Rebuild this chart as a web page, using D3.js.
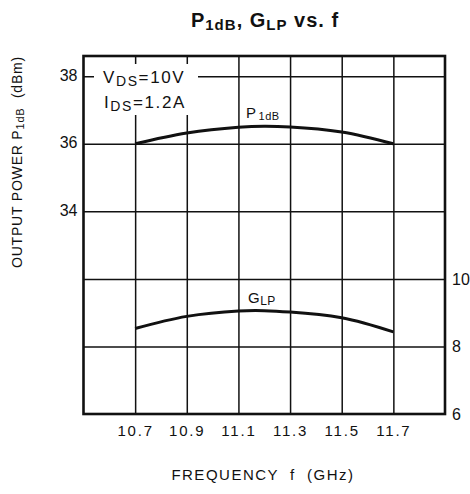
<!DOCTYPE html>
<html>
<head>
<meta charset="utf-8">
<script src="https://cdn.jsdelivr.net/npm/d3@7"></script>
<style>
  html, body { margin: 0; padding: 0; background: #fff; }
  svg { display: block; }
  text { font-family: "Liberation Sans", Arial, Helvetica, sans-serif; fill: #111; white-space: pre; }
</style>
</head>
<body>
<svg id="chart" width="470" height="494"></svg>
<script>
// ---- data ----
const freqTicks = [10.7, 10.9, 11.1, 11.3, 11.5, 11.7];
const freq = [10.7, 10.9, 11.1, 11.2, 11.3, 11.5, 11.7];
const p1dB = [36.0, 36.32, 36.49, 36.52, 36.5, 36.35, 36.0];
const glp  = [8.53, 8.89, 9.05, 9.06, 9.02, 8.85, 8.43];
const leftGrid = [38, 36, 34, 32, 30];
const leftLabels = [38, 36, 34];
const rightTicks = [10, 8, 6];
const xDomain = [10.5, 11.9];
const yLeftDomain = [28, 38.6];
const rightOffset = 22; // right axis value = left value - 22

const svg = d3.select("#chart");
const m = { left: 83.5, right: 445, top: 56, bottom: 414 };
const W = m.right - m.left, H = m.bottom - m.top;

const x = d3.scaleLinear().domain(xDomain).range([m.left, m.right]);
const yL = d3.scaleLinear().domain(yLeftDomain).range([m.bottom, m.top]);
const yR = d3.scaleLinear().domain(yLeftDomain.map(v => v - rightOffset)).range([m.bottom, m.top]);

// vertical grid + bottom labels
const gx = svg.append("g").attr("transform", `translate(0,${m.bottom})`)
  .call(d3.axisBottom(x).tickValues(freqTicks).tickSize(-H).tickPadding(11)
        .tickFormat(d3.format(".1f")));
gx.select(".domain").remove();
gx.selectAll(".tick line").attr("stroke", "#111").attr("stroke-width", 1.5);
gx.selectAll(".tick text").attr("font-size", 15).attr("letter-spacing", 1.8)
  .style("font-family", "'Liberation Sans', Arial, sans-serif").attr("fill", "#111");

// horizontal grid + left labels
const gy = svg.append("g").attr("transform", `translate(${m.left},0)`)
  .call(d3.axisLeft(yL).tickValues(leftGrid).tickSize(-W).tickPadding(6)
        .tickFormat(d => leftLabels.includes(d) ? d : ""));
gy.select(".domain").remove();
gy.selectAll(".tick line").attr("stroke", "#111").attr("stroke-width", 1.5);
gy.selectAll(".tick text").attr("font-size", 16).attr("dy", "0.25em")
  .style("font-family", "'Liberation Sans', Arial, sans-serif").attr("fill", "#111");

// right labels
const gr = svg.append("g").attr("transform", `translate(${m.right},0)`)
  .call(d3.axisRight(yR).tickValues(rightTicks).tickSize(0).tickPadding(7));
gr.select(".domain").remove();
gr.selectAll(".tick text").attr("font-size", 16)
  .style("font-family", "'Liberation Sans', Arial, sans-serif").attr("fill", "#111");

// legend background (hides grid)
svg.append("rect").attr("x", 94).attr("y", 64).attr("width", 104).attr("height", 51).attr("fill", "#fff");

// curves
const line = d3.line().curve(d3.curveNatural);
svg.append("path")
  .attr("d", line(freq.map((f, i) => [x(f), yL(p1dB[i])])))
  .attr("fill", "none").attr("stroke", "#111").attr("stroke-width", 3);
svg.append("path")
  .attr("d", line(freq.map((f, i) => [x(f), yR(glp[i])])))
  .attr("fill", "none").attr("stroke", "#111").attr("stroke-width", 3);

// frame
svg.append("rect").attr("x", m.left).attr("y", m.top).attr("width", W).attr("height", H)
  .attr("fill", "none").attr("stroke", "#111").attr("stroke-width", 2.6);

// legend text
const lg1 = svg.append("text").attr("x", 103).attr("y", 83).attr("font-size", 17).attr("letter-spacing", 1.6);
lg1.append("tspan").text("V");
lg1.append("tspan").text("DS").attr("font-size", 14).attr("dy", 3);
lg1.append("tspan").text("=10V").attr("dy", -3);
const lg2 = svg.append("text").attr("x", 104).attr("y", 108).attr("font-size", 17).attr("letter-spacing", 1.6);
lg2.append("tspan").text("I");
lg2.append("tspan").text("DS").attr("font-size", 14).attr("dy", 3);
lg2.append("tspan").text("=1.2A").attr("dy", -3);

// curve labels
const l1 = svg.append("text").attr("x", 246).attr("y", 118).attr("font-size", 15).attr("letter-spacing", 0.5);
l1.append("tspan").text("P");
l1.append("tspan").text("1dB").attr("font-size", 11).attr("dy", 2).attr("dx", 2);
const l2 = svg.append("text").attr("x", 248).attr("y", 303).attr("font-size", 15).attr("letter-spacing", 0.5);
l2.append("tspan").text("G");
l2.append("tspan").text("LP").attr("font-size", 12).attr("dy", 2);

// title
const t = svg.append("text").attr("x", 265).attr("y", 27).attr("text-anchor", "middle")
  .attr("font-size", 20).attr("font-weight", "bold").attr("letter-spacing", 1);
t.append("tspan").text("P");
t.append("tspan").text("1dB").attr("font-size", 15).attr("dy", 3);
t.append("tspan").text(", G").attr("dy", -3);
t.append("tspan").text("LP").attr("font-size", 15).attr("dy", 3);
t.append("tspan").text(" vs. f").attr("dy", -3);

// y label
const yl = svg.append("text").attr("transform", "translate(22,162) rotate(-90)")
  .attr("text-anchor", "middle").attr("font-size", 14).attr("letter-spacing", 0.8);
yl.append("tspan").text("OUTPUT POWER P");
yl.append("tspan").text("1dB").attr("font-size", 11).attr("dy", 2);
yl.append("tspan").text("  (dBm)").attr("dy", -2);

// x label
svg.append("text").attr("x", 263).attr("y", 480).attr("text-anchor", "middle")
  .attr("font-size", 15).attr("letter-spacing", 1.5).text("FREQUENCY  f  (GHz)");
</script>
</body>
</html>
